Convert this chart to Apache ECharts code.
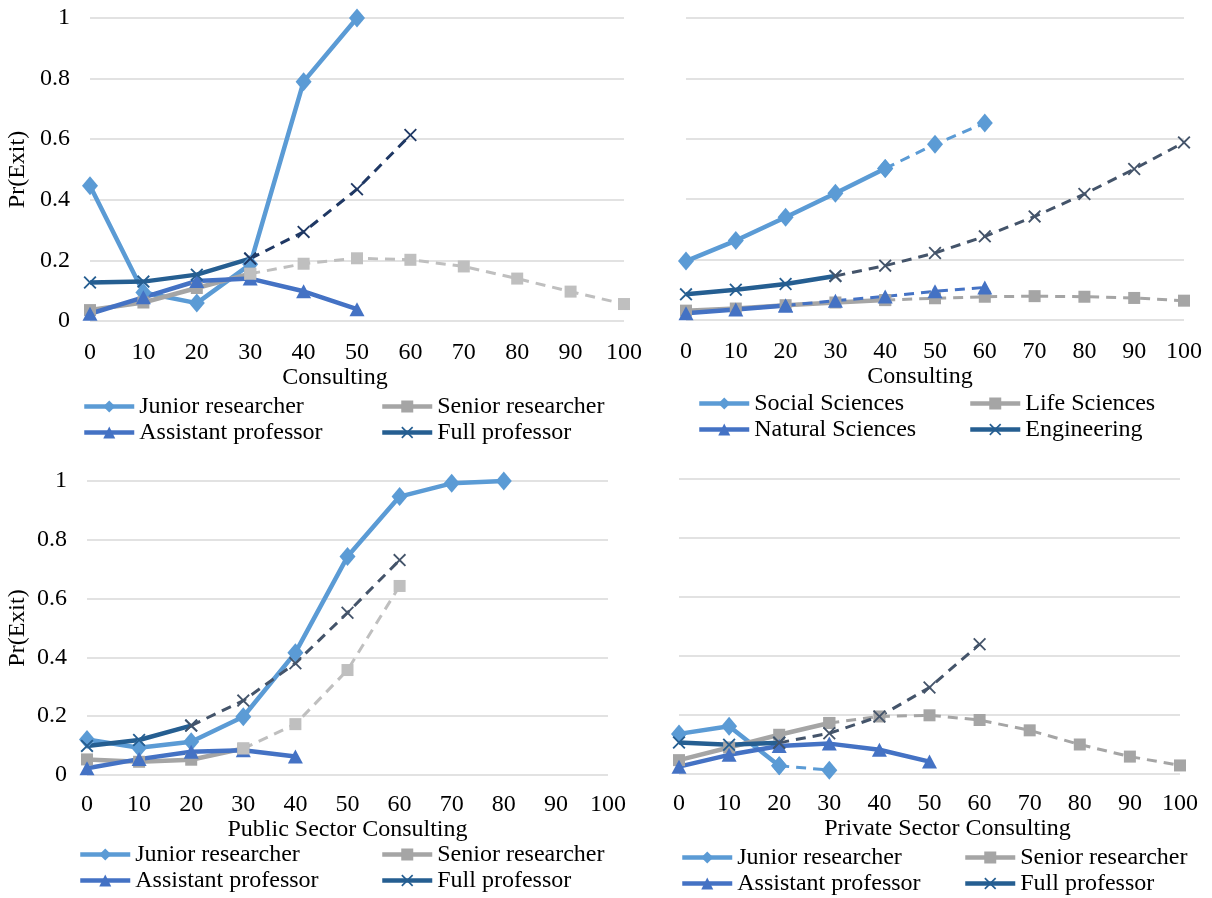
<!DOCTYPE html>
<html>
<head>
<meta charset="utf-8">
<script src="https://cdn.jsdelivr.net/npm/echarts@6/dist/echarts.min.js"></script>
<style>
  html, body { margin: 0; background: #fff; }
  #chart { width: 1212px; height: 898px; }
</style>
</head>
<body>
<div id="chart"></div>
<script>
// x positions shared by every panel (hours of consulting)
const xTicks = [0, 10, 20, 30, 40, 50, 60, 70, 80, 90, 100];

const stageNames = ["Junior researcher", "Senior researcher", "Assistant professor", "Full professor"];
const fieldNames = ["Social Sciences", "Life Sciences", "Natural Sciences", "Engineering"];
const xTitles = ["Consulting", "Consulting", "Public Sector Consulting", "Private Sector Consulting"];

// panel A: consulting, by career stage
const aJunior = [0.446, 0.094, 0.059, 0.187, 0.79, 1.0];
const aSenior = [0.036, 0.061, 0.109, 0.156, 0.189, 0.207, 0.202, 0.180, 0.140, 0.097, 0.056];
const aAssistant = [0.024, 0.078, 0.132, 0.140, 0.098, 0.039];
const aFull = [0.127, 0.130, 0.153, 0.206, 0.294, 0.435, 0.614];
const aSolidEnd = [50, 30, 50, 30]; // last x of the solid part, dashed after

// panel B: consulting, by field
const bSocial = [0.195, 0.263, 0.340, 0.420, 0.502, 0.582, 0.652];
const bLife = [0.031, 0.038, 0.049, 0.058, 0.066, 0.072, 0.077, 0.079, 0.077, 0.073, 0.064];
const bNatural = [0.022, 0.035, 0.048, 0.064, 0.078, 0.095, 0.108];
const bEngineering = [0.085, 0.100, 0.119, 0.146, 0.180, 0.222, 0.277, 0.343, 0.417, 0.500, 0.588];
const bSolidEnd = [40, 40, 20, 30];

// panel C: public sector consulting
const cJunior = [0.121, 0.093, 0.113, 0.198, 0.416, 0.743, 0.947, 0.992, 1.0];
const cSenior = [0.053, 0.045, 0.052, 0.090, 0.173, 0.357, 0.643];
const cAssistant = [0.023, 0.054, 0.079, 0.084, 0.063];
const cFull = [0.099, 0.119, 0.168, 0.253, 0.380, 0.552, 0.731];
const cSolidEnd = [80, 30, 40, 20];

// panel D: private sector consulting
const dJunior = [0.136, 0.162, 0.028, 0.013];
const dSenior = [0.047, 0.090, 0.133, 0.173, 0.195, 0.199, 0.183, 0.148, 0.100, 0.059, 0.029];
const dAssistant = [0.025, 0.065, 0.095, 0.103, 0.082, 0.042];
const dFull = [0.107, 0.099, 0.106, 0.138, 0.195, 0.293, 0.440];
const dSolidEnd = [20, 30, 50, 20];

// styles
const FONT = "Liberation Serif";
const lineColors = ["#5B9BD5", "#A5A5A5", "#4472C4", "#255E91"];
const dashColorsA = ["#5B9BD5", "#BFBFBF", "#4472C4", "#1F3864"];
const dashColorsB = ["#5B9BD5", "#A5A5A5", "#4472C4", "#44546A"];
const dashColorsC = ["#5B9BD5", "#BFBFBF", "#4472C4", "#44546A"];
const dashColorsD = ["#5B9BD5", "#A5A5A5", "#4472C4", "#44546A"];
const crossPath = "path://M0,1L1,0L5,4L9,0L10,1L6,5L10,9L9,10L5,6L1,10L0,9L4,5Z";
const symbols = ["diamond", "rect", "triangle", crossPath];
const symbolSizes = [[16, 19], 12, [15, 14], 13];

const grids = [
  { left: 90, top: 18, width: 534, height: 303 },
  { left: 686, top: 18, width: 498, height: 302 },
  { left: 87, top: 481, width: 521, height: 294 },
  { left: 679, top: 479, width: 501, height: 295 }
];

const xAxes = [];
const yAxes = [];
const solidSeries = [];
const dashSeries = [];

const namePads = [[0, 44, 0, 0], [0, 30, 0, 0], [0, 0, 0, 0], [0, 0, 0, 36]];

grids.forEach((g, p) => {
  const bottom = p < 2;
  xAxes.push({
    gridIndex: p, type: "value", min: 0, max: 100, interval: 10,
    name: xTitles[p], nameLocation: "middle", nameGap: bottom ? 43 : 41,
    nameTextStyle: { fontFamily: FONT, fontSize: 24, color: "#000", padding: namePads[p] },
    axisLine: { show: false }, axisTick: { show: false }, splitLine: { show: false },
    axisLabel: { fontFamily: FONT, fontSize: 24, color: "#000", margin: bottom ? 20 : 18 }
  });
  yAxes.push({
    gridIndex: p, type: "value", min: 0, max: 1, interval: 0.2,
    name: p % 2 === 0 ? "Pr(Exit)" : "", nameLocation: "middle", nameGap: p === 0 ? 60 : 57,
    nameTextStyle: { fontFamily: FONT, fontSize: 24, color: "#000" },
    axisLine: { show: false }, axisTick: { show: false },
    splitLine: { lineStyle: { color: "#D9D9D9", width: 1.5 } },
    axisLabel: { show: p % 2 === 0, fontFamily: FONT, fontSize: 24, color: "#000", margin: 20 }
  });
});

function addPanel(p, names, values, solidEnds, dashColors) {
  values.forEach((vals, k) => {
    const pts = vals.map((v, i) => [xTicks[i], v]);
    const solid = pts.filter(d => d[0] <= solidEnds[k]);
    const dashed = pts.filter(d => d[0] >= solidEnds[k]);
    solidSeries.push({
      name: names[k], type: "line", xAxisIndex: p, yAxisIndex: p, data: solid,
      symbol: symbols[k], symbolSize: symbolSizes[k],
      lineStyle: { width: 4.5, color: lineColors[k] },
      itemStyle: { color: lineColors[k] }
    });
    if (dashed.length > 1) {
      dashSeries.push({
        name: names[k] + " (dashed)", type: "line", xAxisIndex: p, yAxisIndex: p, data: dashed,
        symbol: symbols[k], symbolSize: symbolSizes[k],
        lineStyle: { width: 3, type: [10, 7], color: dashColors[k] },
        itemStyle: { color: dashColors[k] }
      });
    }
  });
}

addPanel(0, stageNames, [aJunior, aSenior, aAssistant, aFull], aSolidEnd, dashColorsA);
addPanel(1, fieldNames, [bSocial, bLife, bNatural, bEngineering], bSolidEnd, dashColorsB);
addPanel(2, stageNames, [cJunior, cSenior, cAssistant, cFull], cSolidEnd, dashColorsC);
addPanel(3, stageNames, [dJunior, dSenior, dAssistant, dFull], dSolidEnd, dashColorsD);

// legend columns: [left of icon, top, names]
const legendCols = [
  [82, 394, [stageNames[0], stageNames[2]]],
  [380, 394, [stageNames[1], stageNames[3]]],
  [697, 391, [fieldNames[0], fieldNames[2]]],
  [968, 391, [fieldNames[1], fieldNames[3]]],
  [78, 842, [stageNames[0], stageNames[2]]],
  [380, 842, [stageNames[1], stageNames[3]]],
  [680, 845, [stageNames[0], stageNames[2]]],
  [963, 845, [stageNames[1], stageNames[3]]]
];

const legends = legendCols.map(c => ({
  left: c[0], top: c[1], orient: "vertical", data: c[2],
  itemWidth: 50, itemHeight: 15, itemGap: 1, padding: 0,
  lineStyle: { width: 4.5 },
  textStyle: { fontFamily: FONT, fontSize: 24, color: "#000", lineHeight: 25 }
}));

const chart = echarts.init(document.getElementById("chart"));
chart.setOption({
  animation: false,
  grid: grids,
  xAxis: xAxes,
  yAxis: yAxes,
  legend: legends,
  series: solidSeries.concat(dashSeries)
});
</script>
</body>
</html>
